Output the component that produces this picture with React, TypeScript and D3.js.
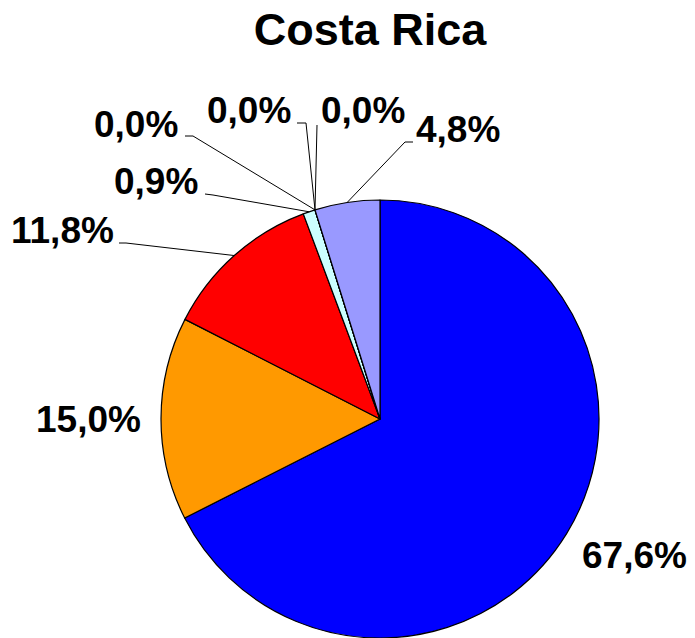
import React, { useEffect } from "react";
import * as d3 from "d3";

const title = "Costa Rica";
const categories = ["Cat A", "Cat B", "Cat C", "Cat D", "Cat E", "Cat F", "Cat G", "Cat H"];
const values = [67.6, 15.0, 11.8, 0.9, 0.0, 0.0, 0.0, 4.8];
const labels = ["67,6%", "15,0%", "11,8%", "0,9%", "0,0%", "0,0%", "0,0%", "4,8%"];
const colors = ["#0000FF", "#FF9900", "#FF0000", "#CCFFFF", "#993366", "#FFFFCC", "#660066", "#9999FF"];

// label layout: text start x, baseline y, optional leader [start, stub]
const labelLayout: { x: number; y: number; leader?: [number, number][] }[] = [
  { x: 582, y: 568 },
  { x: 36, y: 432 },
  { x: 11, y: 243, leader: [[119, 243], [126, 243]] },
  { x: 114, y: 194, leader: [[205, 194], [213, 195]] },
  { x: 94, y: 137, leader: [[185, 136], [193, 136]] },
  { x: 207, y: 123, leader: [[297, 123], [306, 123]] },
  { x: 321, y: 123, leader: [[317, 125], [317, 125]] },
  { x: 416, y: 142, leader: [[413, 142], [405, 142]] },
];

const W = 695;
const H = 638;
const cx = 380;
const cy = 419;
const R = 219;

export default function App() {
  useEffect(() => {
    document.body.style.margin = "0";
  }, []);

  const data = categories.map((c, i) => ({ c, v: values[i], i }));
  const pie = d3.pie<any>().sort(null).value((d) => d.v).startAngle(0).endAngle(2 * Math.PI);
  const arcs = pie(data);
  const arc = d3.arc<any>().innerRadius(0).outerRadius(R);
  const line = d3.line();

  const font = "'Liberation Sans', Arial, Helvetica, sans-serif";

  return (
    <svg width={W} height={H} style={{ display: "block" }}>
      <rect width={W} height={H} fill="#fff" />
      <text x={370} y={45} textAnchor="middle" fontFamily={font} fontWeight="bold" fontSize={45} fill="#000">
        {title}
      </text>
      <g transform={`translate(${cx},${cy})`}>
        {arcs.map((a, i) => (
          <path key={i} d={arc(a) || ""} fill={colors[i]} stroke="#000" strokeWidth={1.2} strokeLinejoin="round" />
        ))}
      </g>
      {arcs.map((a, i) => {
        const lay = labelLayout[i];
        if (!lay.leader) return null;
        const mid = (a.startAngle + a.endAngle) / 2;
        const end: [number, number] = [cx + R * Math.sin(mid), cy - R * Math.cos(mid)];
        const pts: [number, number][] = [...lay.leader, end];
        return <path key={"l" + i} d={line(pts) || ""} fill="none" stroke="#000" strokeWidth={1} />;
      })}
      {labels.map((t, i) => (
        <text key={"t" + i} x={labelLayout[i].x} y={labelLayout[i].y} fontFamily={font} fontWeight="bold" fontSize={37} fill="#000">
          {t}
        </text>
      ))}
    </svg>
  );
}
